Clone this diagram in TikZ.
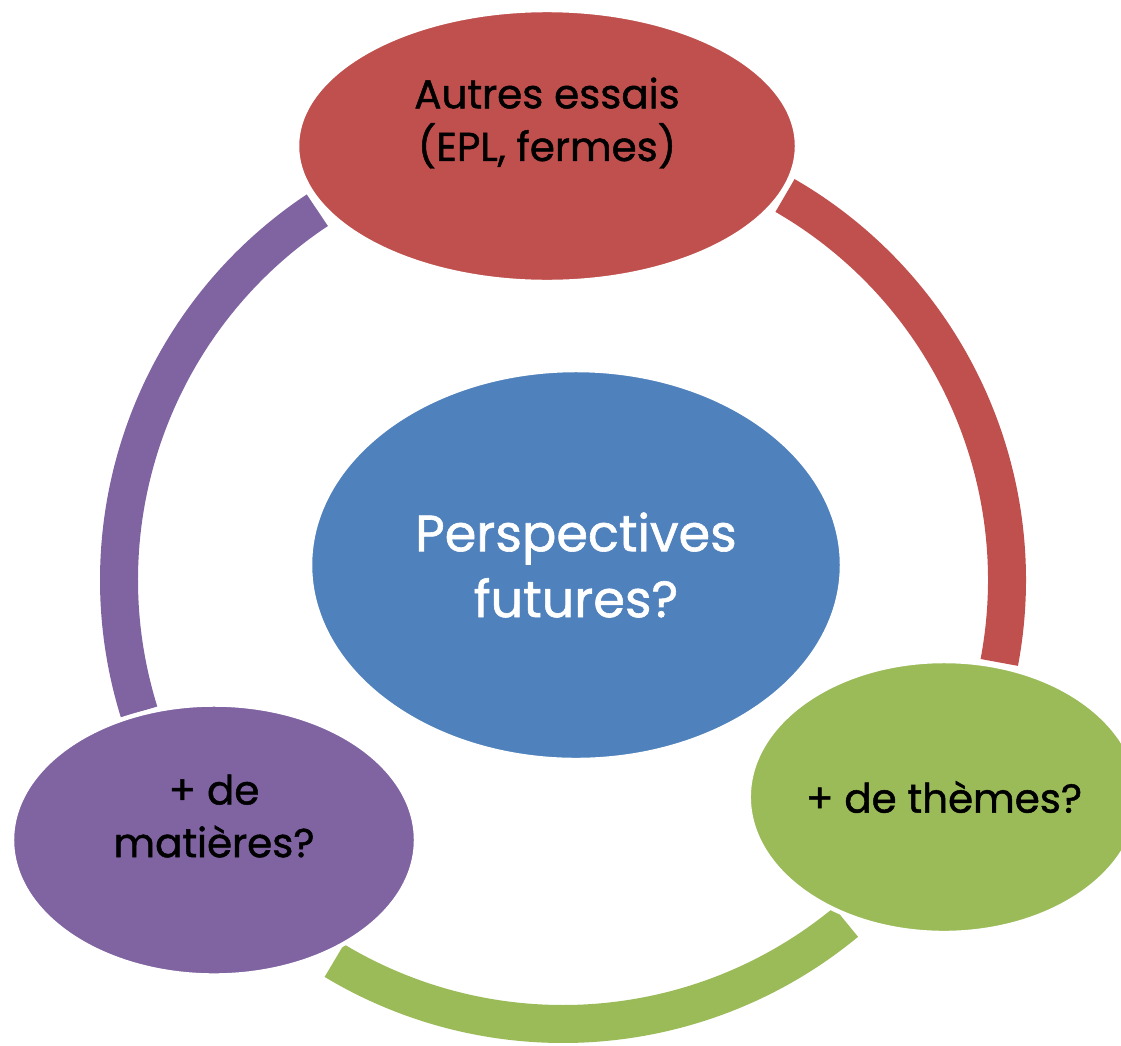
\documentclass[tikz,border=0pt]{standalone}
\usepackage{fontspec}
\setmainfont{Poppins}[FakeBold=1.2]
\usetikzlibrary{shapes.geometric,backgrounds}
\definecolor{ared}{HTML}{C0504D}
\definecolor{ablue}{HTML}{4F81BD}
\definecolor{agreen}{HTML}{9BBB59}
\definecolor{apurple}{HTML}{8064A2}
\begin{document}
\begin{tikzpicture}[x=0.02cm,y=0.02cm,
    bubble/.style={ellipse,draw=white,line width=2.5pt,inner sep=0pt,align=center},
    band/.style={draw=#1,line width=0.76cm},
    txt/.style={align=center,font=\fontsize{23}{30}\selectfont}]
  \useasboundingbox (0,0) rectangle (1121,-1045);
  \coordinate (o) at (563,-580);
  \node[bubble,fill=ablue,minimum width=10.64cm,minimum height=7.8cm,
    text=white,font=\fontsize{29}{37.5}\selectfont] (0) at (576,-565) {Perspectives\\futures?};
  \node[bubble,fill=ared,minimum width=10cm,minimum height=5.44cm] (1) at (547,-146) {};
  \node[bubble,fill=agreen,minimum width=7.68cm,minimum height=5.44cm,txt] (2) at (944,-797) {+ de thèmes?};
  \node[bubble,fill=apurple,minimum width=8.08cm,minimum height=5.42cm] (3) at (214,-840) {};
  \node[txt] (t1) at ([yshift=0.46cm]1) {Autres essais\\(EPL, fermes)};
  \node[txt] (t3) at ([yshift=0.48cm]3) {+ de\\matières?};
  \begin{scope}[on background layer]
    \draw[band=ared] (o) ++(60:444) arc[start angle=60,end angle=-10.7,radius=444];
    \draw[band=agreen] (o) ++(-50.4:444) arc[start angle=-50.4,end angle=-121,radius=444];
    \draw[band=apurple] (o) ++(197.3:444) arc[start angle=197.3,end angle=123.6,radius=444];
  \end{scope}
\end{tikzpicture}
\end{document}
